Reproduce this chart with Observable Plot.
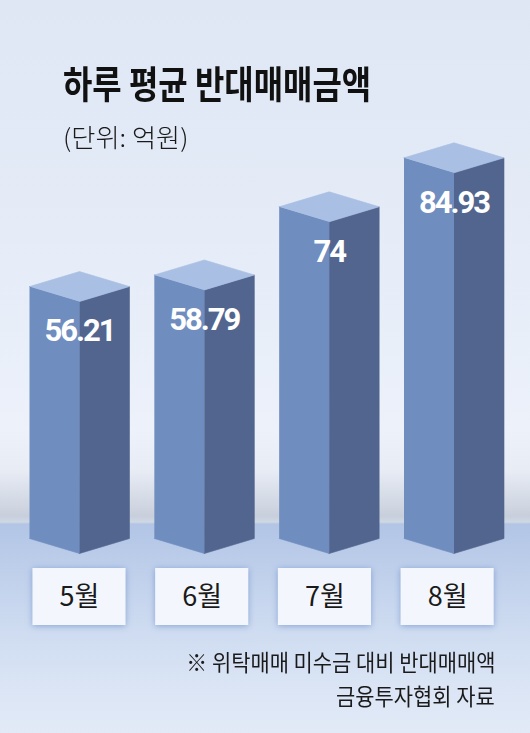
<!DOCTYPE html>
<html><head><meta charset="utf-8">
<script src="https://cdn.jsdelivr.net/npm/d3@7"></script>
<script src="https://cdn.jsdelivr.net/npm/@observablehq/plot@0.6"></script>
<style>
html,body{margin:0;padding:0;}
body{width:530px;height:733px;overflow:hidden;font-family:"Noto Sans CJK KR",sans-serif;}
#wrap{position:relative;width:530px;height:733px;background:
 linear-gradient(to bottom, #dfe7f5 0px, #e4ebf7 200px, #ecf1fa 430px, #e7ecf5 470px, #d2d8e3 503px, #c8cfdc 516px, #d0d8e4 522px, #b2c5e5 524px, #bccdea 560px, #ccdaf0 620px, #dbe5f5 690px, #e2eaf7 733px);}
#chart{position:absolute;left:0;top:0;}
.t{position:absolute;white-space:nowrap;color:#111;line-height:1;}
#title{left:63px;top:63px;font-size:38px;font-weight:700;transform:scaleX(0.84);transform-origin:0 0;}
#unit{left:63px;top:124px;font-size:25px;font-weight:300;color:#1a1a1a;transform:scaleX(1.05);transform-origin:0 0;}
.note{right:35px;font-size:22.5px;font-weight:400;color:#1a1a1a;transform:scaleX(0.93);transform-origin:100% 0;}
#note1{top:650px;}
#note2{top:684px;}
</style></head>
<body>
<div id="wrap">
  <div id="chart"></div>
  <div class="t" id="title"></div>
  <div class="t" id="unit"></div>
  <div class="t note" id="note1"></div>
  <div class="t note" id="note2"></div>
</div>
<script>
const months = ["5월", "6월", "7월", "8월"];
const values = [56.21, 58.79, 74, 84.93];
const valueLabels = ["56.21", "58.79", "74", "84.93"];
const title = "하루 평균 반대매매금액";
const unitText = "(단위: 억원)";
const notes = ["※ 위탁매매 미수금 대비 반대매매액", "금융투자협회 자료"];

document.getElementById("title").textContent = title;
document.getElementById("unit").textContent = unitText;
document.getElementById("note1").textContent = notes[0];
document.getElementById("note2").textContent = notes[1];

// scale settings
const xRange = [79, 453.5];
const yDomain = [0, 85];
const yRange = [553, 172];
const kx = (xRange[1] - xRange[0]) / 3;
const ky = (yRange[0] - yRange[1]) / (yDomain[1] - yDomain[0]);
const hw = 50 / kx;      // half width of a bar (in x units)
const dep = 15 / ky;     // isometric depth (in y units)
const boxStep = 0.983;   // label boxes are spaced slightly tighter than bars

const rows = months.map((m, i) => ({m, i, v: values[i], label: valueLabels[i]}));
const poly = (f) => rows.flatMap(r => f(r).map(([x, y]) => ({m: r.m, x, y})));

const leftFace = poly(r => [[r.i - hw, r.v + dep], [r.i, r.v], [r.i, 0], [r.i - hw, dep]]);
const rightFace = poly(r => [[r.i, r.v], [r.i + hw, r.v + dep], [r.i + hw, dep], [r.i, 0]]);
const topFace = poly(r => [[r.i - hw, r.v + dep], [r.i, r.v + 2 * dep], [r.i + hw, r.v + dep], [r.i, r.v]]);

const chart = Plot.plot({
  width: 530,
  height: 733,
  margin: 0,
  x: {type: "linear", domain: [0, 3], range: xRange, axis: null},
  y: {domain: yDomain, range: yRange, axis: null},
  style: {background: "transparent", overflow: "visible"},
  marks: [
    Plot.line(leftFace, {x: "x", y: "y", z: "m", fill: "#6f8dbf", stroke: "#6f8dbf", strokeWidth: 0.6}),
    Plot.line(rightFace, {x: "x", y: "y", z: "m", fill: "#51658f", stroke: "#51658f", strokeWidth: 0.6}),
    Plot.line(topFace, {x: "x", y: "y", z: "m", fill: "#a9bfe3", stroke: "#a9bfe3", strokeWidth: 0.6}),
    Plot.text(rows, {x: "i", y: "v", dy: 30, text: "label", fill: "white", fontSize: 31, fontWeight: "bold", fontFamily: "Roboto, sans-serif"}),
    Plot.rect(rows, {x1: r => r.i * boxStep - 0.373, x2: r => r.i * boxStep + 0.373, y1: -15 / ky, y2: -72 / ky, fill: "#f3f7fd"}),
    Plot.text(rows, {x: r => r.i * boxStep, y: -44 / ky, text: "m", fill: "#1a1a1a", fontSize: 27, fontFamily: "'Noto Sans CJK KR', sans-serif"})
  ]
});
chart.querySelectorAll('g[aria-label="rect"]').forEach(g => g.style.filter = "drop-shadow(0px 1px 3px rgba(80,120,190,0.55))");
chart.querySelectorAll('g[aria-label="text"]').forEach((g, k) => { if (k === 0) g.style.letterSpacing = "-2px"; });
document.getElementById("chart").appendChild(chart);
</script>
</body></html>
